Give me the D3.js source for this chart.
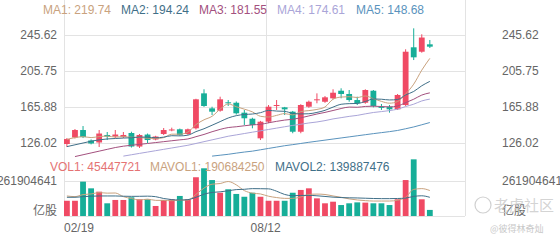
<!DOCTYPE html>
<html>
<head>
<meta charset="utf-8">
<script src="https://cdn.jsdelivr.net/npm/d3@7"></script>
<style>
  body { margin: 0; background: #fff; }
  svg { display: block; font-family: "Liberation Sans", Arial, sans-serif; }
</style>
</head>
<body>
<svg id="chart" width="560" height="240"></svg>
<script>
// weekly candles
const openVals = [124.9,132.1,140.4,128.8,126.6,134.9,133.2,132.6,137.1,122.1,135.4,129.9,136.0,140.0,141.2,136.0,142.3,181.0,164.4,161.8,171.1,170.6,159.6,152.9,131.2,149.6,167.0,165.5,160.7,138.5,166.2,173.3,171.7,175.5,183.9,180.3,173.6,170.6,183.9,166.0,166.2,163.3,168.1,232.0,227.1,235.3];
const closeVals = [130.4,140.4,132.6,125.5,136.5,133.2,135.4,134.9,122.1,134.9,129.3,133.2,140.4,141.0,134.9,141.2,174.4,167.0,160.7,174.4,170.0,158.9,153.4,145.9,149.6,166.2,168.1,163.3,138.5,168.1,171.7,174.4,176.6,181.7,180.3,173.6,170.0,184.7,167.0,165.3,163.3,179.2,227.1,220.9,242.8,232.7];
const highVals = [131.5,141.5,144.8,130.0,140.4,138.2,140.4,138.2,138.5,136.0,136.5,134.0,142.6,143.0,142.0,142.0,175.0,185.5,166.2,177.3,173.6,172.0,162.6,154.0,150.5,168.1,173.6,166.0,161.5,169.0,173.0,181.0,178.0,185.5,186.6,184.7,177.3,185.5,184.7,169.2,168.1,180.3,229.8,253.0,246.4,240.1];
const lowVals = [121.6,131.0,131.5,124.5,121.6,129.3,131.5,131.5,121.0,120.5,126.0,129.0,134.9,139.0,134.0,135.0,141.0,166.0,157.0,160.7,167.0,157.5,145.9,142.3,129.3,148.0,162.6,157.0,136.8,136.8,165.0,170.0,170.5,174.5,175.5,171.7,168.1,169.5,165.5,162.6,159.6,162.6,167.0,217.9,226.0,231.2];

const ma1 = [130.0,132.0,133.0,132.0,133.1,133.6,132.6,133.1,132.4,132.1,131.3,130.9,132.0,135.8,135.8,138.1,146.4,151.7,155.6,163.5,169.3,166.2,163.5,160.5,155.6,154.8,156.6,158.6,157.1,160.8,161.9,163.2,165.9,174.5,176.9,177.3,176.4,178.1,175.1,172.1,170.1,171.9,180.4,191.2,206.7,219.74];
const ma2 = [122,124,126,128,129.5,130.5,131,131.5,131.8,132.6,132.5,131.8,132.5,134.1,133.9,134.7,138.6,141.8,145.7,149.7,153.7,156.3,157.6,158.1,159.6,162.1,161.4,161.1,158.8,158.2,158.4,159.9,162.2,165.8,168.9,169.6,169.8,172.0,174.8,174.5,173.7,174.2,179.2,183.1,189.4,194.24];
const ma3 = [null,111,113,115,117,119,121,122.5,123.5,124.5,125.5,126.5,127.5,128.5,129.5,130.5,133,135.5,138.5,141.1,143.1,144.0,145.1,146.1,146.7,148.4,150.0,151.4,152.3,153.9,156.0,158.1,159.9,162.0,164.2,165.8,165.6,166.5,166.8,166.4,166.0,167.0,170.7,174.5,179.1,181.55];
const ma4 = [null,null,null,null,null,null,null,111.5,113,114.5,116,117.5,119,120.5,122,123.5,125.5,127.5,129.5,131.5,133.5,135,136.5,138,139.5,141,142.5,144,145.5,146.8,148.2,149.3,150.8,152.7,154.1,155.5,156.6,158.3,159.8,160.8,161.9,163.5,166.4,169.0,172.6,174.61];
const ma5 = [null,null,null,null,null,null,null,null,null,null,null,null,null,null,null,null,null,null,111.5,112.5,113.5,114.8,116,117,118.5,120,121.5,123,124.2,125.5,126.8,128,129.2,130.4,131.6,132.8,134,135.2,136.4,137.5,138.6,139.9,141.8,143.8,146.2,148.68];

const volumes = [114e6,114e6,257e6,207e6,182e6,95e6,120e6,120e6,140e6,125e6,125e6,75e6,120e6,125e6,150e6,125e6,290e6,357e6,269e6,174e6,200e6,165e6,144e6,174e6,144e6,114e6,114e6,114e6,174e6,195e6,207e6,132e6,95e6,107e6,82e6,95e6,102e6,100e6,95e6,95e6,82e6,125e6,269e6,424e6,125e6,45447721];
const mavol1 = [150e6,145e6,160e6,165e6,175e6,171e6,172e6,145e6,131e6,120e6,126e6,117e6,117e6,114e6,119e6,119e6,162e6,209e6,238e6,243e6,258e6,233e6,190e6,171e6,165e6,148e6,138e6,132e6,132e6,142e6,161e6,164e6,161e6,150e6,140e6,128e6,120e6,115e6,112e6,112e6,112e6,118e6,140e6,199e6,205e6,190684250];
const mavol2 = [140e6,140e6,145e6,148e6,150e6,150e6,150e6,148e6,147e6,147.4e6,148.5e6,144.6e6,130.9e6,122.7e6,119.5e6,122.5e6,139.5e6,163.2e6,176.1e6,181e6,188.5e6,197.5e6,199.9e6,204.8e6,204.2e6,203.1e6,185.5e6,161.2e6,151.7e6,153.8e6,154.5e6,151.2e6,146.3e6,141e6,138e6,136e6,135e6,133e6,131e6,130e6,130e6,131e6,134e6,146.9e6,151.2e6,139887476];

const priceTicks = [245.62, 205.75, 165.88, 126.02];
const volTicks = [261904641];
const dateLabels = [{ i: 0, text: "02/19" }, { i: 25, text: "08/12" }];
const slots = 50;

const maLegend = [
  { name: "MA1", value: "219.74", color: "#c9a27e", data: ma1 },
  { name: "MA2", value: "194.24", color: "#3f6f88", data: ma2 },
  { name: "MA3", value: "181.55", color: "#a3507e", data: ma3 },
  { name: "MA4", value: "174.61", color: "#aaa5d8", data: ma4 },
  { name: "MA5", value: "148.68", color: "#5a93bd", data: ma5 }
];

const UP = "#f04a64";
const DOWN = "#16ae98";

const svg = d3.select("#chart");
const left = 64, right = 465;

const x = d3.scaleBand().domain(d3.range(slots)).range([left, right]).paddingInner(0.28);
const cx = i => x(i) + x.bandwidth() / 2;
const y = d3.scaleLinear().domain([126.02, 245.62]).range([143, 35]);
const yv = d3.scaleLinear().domain([0, 261904641]).range([216, 181]);

// grid
const grid = svg.append("g").attr("stroke", "#e3e3e3").attr("stroke-width", 1);
priceTicks.forEach(t => {
  grid.append("line").attr("x1", left).attr("x2", right)
    .attr("y1", Math.round(y(t)) + 0.5).attr("y2", Math.round(y(t)) + 0.5);
});
volTicks.forEach(t => {
  grid.append("line").attr("x1", left).attr("x2", right)
    .attr("y1", Math.round(yv(t)) + 0.5).attr("y2", Math.round(yv(t)) + 0.5);
});
grid.append("line").attr("x1", left).attr("x2", right).attr("y1", 216.5).attr("y2", 216.5);
[left, x(25), right].forEach(px => {
  grid.append("line").attr("x1", Math.round(px) + 0.5).attr("x2", Math.round(px) + 0.5)
    .attr("y1", 0).attr("y2", 216);
});

// axis labels
const labels = svg.append("g").attr("fill", "#666").attr("font-size", 12);
priceTicks.forEach(t => {
  labels.append("text").attr("x", 57).attr("y", y(t) + 4).attr("text-anchor", "end").text(t.toFixed(2));
  labels.append("text").attr("x", 502).attr("y", y(t) + 4).text(t.toFixed(2));
});
volTicks.forEach(t => {
  labels.append("text").attr("x", 57).attr("y", yv(t) + 4).attr("text-anchor", "end").text(t);
  labels.append("text").attr("x", 502).attr("y", yv(t) + 4).text(t);
});
labels.append("text").attr("x", 57).attr("y", 215).attr("text-anchor", "end")
  .attr("font-family", "'Noto Sans CJK SC', sans-serif").text("亿股");
labels.append("text").attr("x", 502).attr("y", 215)
  .attr("font-family", "'Noto Sans CJK SC', sans-serif").text("亿股");
dateLabels.forEach(d => {
  labels.append("text").attr("x", x(d.i)).attr("y", 232)
    .attr("text-anchor", d.i === 0 ? "start" : "middle").text(d.text);
});

// candles
const candles = svg.append("g").selectAll("g").data(openVals).join("g");
candles.each(function (o, i) {
  const c = closeVals[i];
  const col = c >= o ? UP : DOWN;
  const g = d3.select(this);
  g.append("line").attr("x1", cx(i)).attr("x2", cx(i))
    .attr("y1", y(highVals[i])).attr("y2", y(lowVals[i]))
    .attr("stroke", col).attr("stroke-width", 1);
  const top = y(Math.max(o, c)), bot = y(Math.min(o, c));
  g.append("rect").attr("x", x(i)).attr("width", x.bandwidth())
    .attr("y", top).attr("height", Math.max(1, bot - top)).attr("fill", col);
});

// moving averages
const maLine = d3.line().defined(d => d != null).x((d, i) => cx(i)).y(d => y(d)).curve(d3.curveMonotoneX);
maLegend.forEach(m => {
  svg.append("path").datum(m.data).attr("d", maLine)
    .attr("fill", "none").attr("stroke", m.color).attr("stroke-width", 1);
});

// volume bars
svg.append("g").selectAll("rect").data(volumes).join("rect")
  .attr("x", (d, i) => x(i)).attr("width", x.bandwidth())
  .attr("y", d => yv(d)).attr("height", d => 216 - yv(d))
  .attr("fill", (d, i) => closeVals[i] >= openVals[i] ? UP : DOWN);

const volLine = d3.line().x((d, i) => cx(i)).y(d => yv(d)).curve(d3.curveMonotoneX);
[[mavol1, "#c9a27e"], [mavol2, "#3f6f88"]].forEach(([data, col]) => {
  svg.append("path").datum(data).attr("d", volLine)
    .attr("fill", "none").attr("stroke", col).attr("stroke-width", 1);
});

// legends
const legX = [43, 121, 199, 277, 356];
maLegend.forEach((m, k) => {
  svg.append("text").attr("x", legX[k]).attr("y", 14).attr("font-size", 12)
    .attr("fill", m.color).text(`${m.name}: ${m.value}`);
});
const volLegend = [
  { x: 50, text: "VOL1: 45447721", color: "#e57373" },
  { x: 150, text: "MAVOL1: 190684250", color: "#c9a27e" },
  { x: 275, text: "MAVOL2: 139887476", color: "#3f6f88" }
];
volLegend.forEach(v => {
  svg.append("text").attr("x", v.x).attr("y", 171).attr("font-size", 12)
    .attr("fill", v.color).text(v.text);
});

// watermark
const wm = svg.append("g").attr("fill", "#c8c8c8").attr("font-family", "'Noto Sans CJK SC', sans-serif");
wm.append("circle").attr("cx", 483).attr("cy", 205).attr("r", 8).attr("fill", "none").attr("stroke", "#d0d0d0").attr("stroke-width", 1.2);
wm.append("text").attr("x", 494).attr("y", 211).attr("font-size", 15).attr("fill-opacity", 0.8).text("老虎社区");
wm.append("text").attr("x", 490).attr("y", 232).attr("font-size", 9).text("@彼得林奇灿");
</script>
</body>
</html>
